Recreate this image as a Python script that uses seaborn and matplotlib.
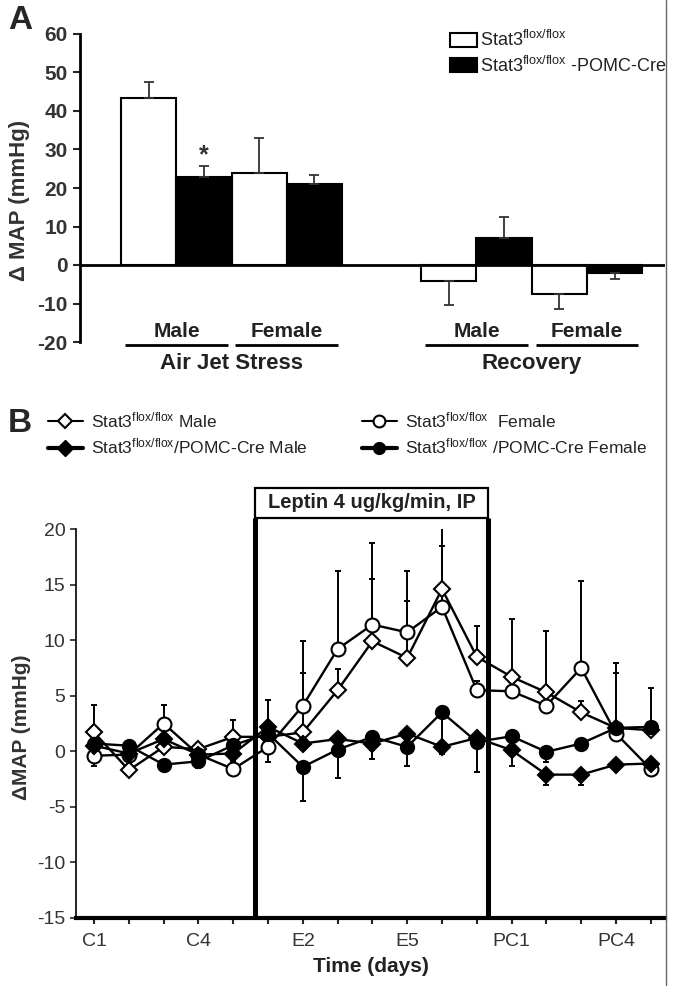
import numpy as np
import pandas as pd
import matplotlib
matplotlib.use("Agg")
import matplotlib.pyplot as plt
import seaborn as sns
from matplotlib.patches import Patch, Rectangle
from matplotlib.lines import Line2D

# ---- panel A data: change in MAP, air jet stress / recovery ----
sexes = ["Male", "Female", "Male", "Female"]
phases = ["Air Jet Stress", "Air Jet Stress", "Recovery", "Recovery"]
flox_mean = [43.5, 24.0, -4.2, -7.5]
flox_sem = [4.0, 9.0, 6.2, 4.0]
pomc_mean = [22.8, 21.0, 6.9, -2.0]
pomc_sem = [3.0, 2.5, 5.6, 1.7]
genotypes = ["flox", "pomc"]

# ---- panel B data: daily change in MAP during leptin infusion ----
days = ["C1", "C2", "C3", "C4", "C5", "E1", "E2", "E3", "E4", "E5", "E6", "E7",
        "PC1", "PC2", "PC3", "PC4", "PC5"]
tick_days = ["C1", "C4", "E2", "E5", "PC1", "PC4"]
male_flox = [1.7, -1.7, 0.4, 0.2, 1.3, 1.3, 1.7, 5.5, 9.9, 8.4, 14.6, 8.5, 6.7, 5.3, 3.5, 2.1, 1.9]
male_flox_err = [2.5, 0.6, 0.8, 0.5, 1.5, 3.35, 5.3, 1.9, 5.6, 5.1, 5.9, 2.8, 5.2, 5.55, 1.0, 5.85, 3.8]
female_flox = [-0.4, -0.3, 2.5, -0.3, -1.6, 0.4, 4.1, 9.2, 11.4, 10.7, 13.0, 5.5, 5.4, 4.1, 7.5, 1.6, -1.6]
female_flox_err = [0.6, 0.5, 1.7, 0.5, 0.6, 0.8, 5.8, 7.0, 7.3, 5.55, 5.5, 0.8, 0.8, 0.8, 7.8, 5.4, 0.5]
male_pomc = [0.5, -0.2, 1.1, -0.3, -0.2, 2.2, 0.7, 1.1, 0.7, 1.6, 0.4, 1.2, 0.1, -2.1, -2.1, -1.2, -1.1]
male_pomc_err = [1.85, 0.5, 0.5, 0.9, 0.6, 3.2, 0.6, 0.7, 0.6, 0.7, 0.6, 0.7, 1.45, 0.9, 0.9, 0.5, 0.6]
female_pomc = [0.7, 0.5, -1.2, -0.9, 0.55, 1.6, -1.4, 0.15, 1.3, 0.4, 3.5, 0.85, 1.35, -0.05, 0.7, 2.1, 2.2]
female_pomc_err = [0.5, 0.5, 0.4, 0.6, 0.5, 0.5, 3.1, 2.55, 1.95, 1.7, 3.1, 2.75, 0.5, 0.9, 0.5, 0.5, 0.5]

sup = r"Stat3$^{\mathregular{flox/flox}}$"

sns.set_style("white")
plt.rcParams["font.family"] = ["Liberation Sans", "DejaVu Sans"]
plt.rcParams["mathtext.default"] = "regular"
plt.rcParams["axes.unicode_minus"] = False
INK = "#222222"

W, H = 675, 992
fig = plt.figure(figsize=(W / 100, H / 100), dpi=100)

# ================= panel A =================
axA = fig.add_axes([80 / W, 1 - 342 / H, 585 / W, 308 / H])
group_x = [1.745, 3.74, 7.17, 9.17]  # layout of the four bar groups

dfA = pd.DataFrame({
    "x": group_x * 2,
    "genotype": ["flox"] * 4 + ["pomc"] * 4,
    "dmap": flox_mean + pomc_mean,
})
sns.barplot(data=dfA, x="x", y="dmap", hue="genotype", hue_order=genotypes,
            palette={"flox": "white", "pomc": "black"}, native_scale=True,
            width=1.0, gap=0, edgecolor="black", linewidth=1.5,
            errorbar=None, legend=False, ax=axA)

off = np.min(np.diff(sorted(group_x))) / 4
for means, sems, sign in [(flox_mean, flox_sem, -1), (pomc_mean, pomc_sem, 1)]:
    for gx, m, s in zip(group_x, means, sems):
        yerr = [[0], [s]] if m >= 0 else [[s], [0]]
        axA.errorbar(gx + sign * off, m, yerr=yerr, fmt="none", ecolor="#333333",
                     elinewidth=1.3, capsize=3.5, capthick=1.3, zorder=1)

axA.axhline(0, color="black", lw=2, zorder=4)
axA.set_xlim(0, 10.58)
axA.set_ylim(-20, 60)
axA.set_yticks(range(-20, 61, 10))
axA.set_xticks([])
axA.set_xlabel("")
for s in ["top", "right", "bottom"]:
    axA.spines[s].set_visible(False)
axA.spines["left"].set_linewidth(2)
axA.spines["left"].set_color("black")
axA.tick_params(axis="y", direction="out", length=5, width=1.5, pad=4,
                labelsize=15, labelcolor="#333333", left=True)
for t in axA.get_yticklabels():
    t.set_fontweight("bold")
axA.set_ylabel("Δ MAP (mmHg)", fontsize=16, fontweight="bold", color="#333333")
axA.yaxis.set_label_coords(-0.086, 0.46)

# significance star over male POMC-Cre bar
axA.text(group_x[0] + off, 28.5, "*", ha="center", va="center", fontsize=18,
         color="#333333", fontweight="bold")

# group labels under the axis
for gx, sex in zip(group_x, sexes):
    axA.text(gx, -17.4, sex, ha="center", va="center", fontsize=15,
             fontweight="bold", color=INK, clip_on=False)
    axA.plot([gx - 0.93, gx + 0.93], [-20.8, -20.8], color="black", lw=2,
             clip_on=False, solid_capstyle="butt")
for ph in ["Air Jet Stress", "Recovery"]:
    xs = [gx for gx, p in zip(group_x, phases) if p == ph]
    axA.text(np.mean(xs), -25.5, ph, ha="center", va="center", fontsize=16,
             fontweight="bold", color=INK, clip_on=False)

handlesA = [Patch(facecolor="white", edgecolor="black", linewidth=1.5),
            Patch(facecolor="black", edgecolor="black", linewidth=1.5)]
fig.legend(handlesA, [sup, sup + " -POMC-Cre"], loc="upper left",
           bbox_to_anchor=(450 / W, 1 - 30 / H), frameon=False, fontsize=13,
           handlelength=1.5, handleheight=0.8, handletextpad=0.15,
           labelspacing=0.3, borderpad=0, borderaxespad=0, labelcolor=INK)

# ================= panel B =================
axB = fig.add_axes([76 / W, 1 - 918 / H, 589 / W, 389 / H])
x_idx = np.arange(len(days))

# leptin infusion window (layout, in day-index units)
lep_start, lep_end = 4.63, 11.32
for xv in (lep_start, lep_end):
    axB.plot([xv, xv], [-15, 21.0], color="black", lw=3.6, clip_on=False,
             solid_capstyle="butt", zorder=5)
axB.add_patch(Rectangle((lep_start, 21.0), lep_end - lep_start, 2.7,
                        facecolor="white", edgecolor="black", lw=1.6,
                        clip_on=False, zorder=5))
axB.text((lep_start + lep_end) / 2, 22.35, "Leptin 4 ug/kg/min, IP", ha="center",
         va="center", fontsize=14.5, fontweight="bold", color=INK, zorder=6,
         clip_on=False)

series = [
    (male_flox, male_flox_err, "D", "white", 8.3, "up"),
    (female_flox, female_flox_err, "o", "white", 10, "up"),
    (male_pomc, male_pomc_err, "D", "black", 8.3, "down"),
    (female_pomc, female_pomc_err, "o", "black", 9.5, "down"),
]
for vals, err, mk, face, ms, side in series:
    err = np.array(err)
    zero = np.zeros_like(err)
    yerr = [zero, err] if side == "up" else [err, zero]
    axB.errorbar(x_idx, vals, yerr=yerr, fmt="none", ecolor="black",
                 elinewidth=1.4, capsize=2, capthick=1.4, zorder=1.5)
    sns.lineplot(x=x_idx, y=vals, color="black", marker=mk, markersize=ms,
                 markerfacecolor=face, markeredgecolor="black",
                 markeredgewidth=1.5, linewidth=1.7, errorbar=None,
                 legend=False, ax=axB)

axB.set_xlim(-0.52, 16.41)
axB.set_ylim(-15, 20)
axB.set_yticks(range(-15, 21, 5))
axB.set_xticks(x_idx, minor=True)
axB.set_xticks([days.index(d) for d in tick_days])
axB.set_xticklabels(tick_days)
for s in ["top", "right"]:
    axB.spines[s].set_visible(False)
axB.spines["left"].set_linewidth(1.2)
axB.spines["left"].set_color("black")
axB.spines["bottom"].set_linewidth(3)
axB.spines["bottom"].set_color("black")
axB.tick_params(axis="y", direction="out", length=4, width=1.2, pad=3.5,
                labelsize=14, labelcolor="#333333", left=True)
axB.tick_params(axis="x", which="both", direction="out", length=4, width=1.5,
                pad=6.5, labelsize=14, labelcolor="#333333", bottom=True)
axB.set_xlabel("Time (days)", fontsize=15, fontweight="bold", color=INK, labelpad=5)
axB.set_ylabel("ΔMAP (mmHg)", fontsize=15, fontweight="bold", color="#333333")
axB.yaxis.set_label_coords(-0.077, 0.49)

hB1 = [Line2D([], [], color="black", lw=1.5, marker="D", ms=7, mfc="white", mec="black", mew=1.5),
       Line2D([], [], color="black", lw=3, marker="D", ms=8, mfc="black", mec="black")]
hB2 = [Line2D([], [], color="black", lw=1.5, marker="o", ms=8.5, mfc="white", mec="black", mew=1.5),
       Line2D([], [], color="black", lw=3, marker="o", ms=8.5, mfc="black", mec="black")]
legkw = dict(loc="upper left", frameon=False, fontsize=12.5, handlelength=2.0,
             handletextpad=0.5, labelspacing=0.4, borderpad=0, borderaxespad=0,
             labelcolor=INK)
fig.legend(hB1, [sup + " Male", sup + "/POMC-Cre Male"],
           bbox_to_anchor=(48 / W, 1 - 410 / H), **legkw)
fig.legend(hB2, [sup + "  Female", sup + " /POMC-Cre Female"],
           bbox_to_anchor=(362 / W, 1 - 410 / H), **legkw)

# panel letters and page border line
fig.text(8 / W, 1 - 5 / H, "A", fontsize=24, fontweight="bold", va="top", ha="left")
fig.text(8 / W, 1 - 408 / H, "B", fontsize=24, fontweight="bold", va="top", ha="left")
fig.add_artist(Line2D([666 / W, 666 / W], [1 - 985 / H, 1.0], color="#666666",
                      lw=1, transform=fig.transFigure))

fig.savefig("out.png", dpi=100)
